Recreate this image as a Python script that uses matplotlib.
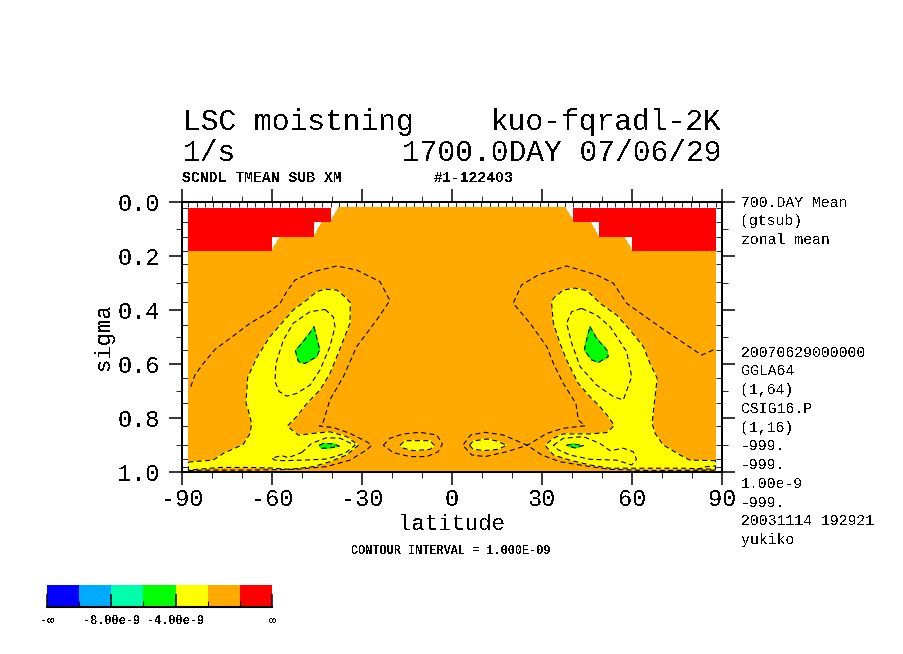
import matplotlib
matplotlib.use("Agg")
import matplotlib.pyplot as plt

plt.rcParams['font.family'] = ['Liberation Mono', 'DejaVu Sans Mono']
plt.rcParams['text.antialiased'] = False

W, H = 904, 654

# grid of the model: gaussian latitudes and sigma levels (inner ticks)
lat_nh = [1.39, 4.19, 6.98, 9.77, 12.56, 15.35, 18.14, 20.93, 23.72, 26.51, 29.30,
          32.09, 34.88, 37.67, 40.46, 43.25, 46.04, 48.84, 51.63, 54.42, 57.21, 60.0,
          62.79, 65.58, 68.37, 71.16, 73.95, 76.74, 79.53, 82.31, 85.10, 87.86]
sigma_levels = [.995, .980, .950, .900, .830, .745, .650, .549, .454, .369, .295,
                .230, .180, .130, .074, .022]

# fill areas, contours as (latitude, sigma)
orange_lat = [-87.86, -59.99, -57.21, -46.04, -43.25, -40.46, -37.67, 37.67, 40.46,
              46.04, 48.84, 57.21, 59.99, 87.86, 87.86, -87.86]
orange_sig = [.18, .18, .13, .13, .074, .074, .022, .022, .074, .074, .13, .13, .18,
              .18, 1.0, 1.0]

red_w_lat = [-87.86, -40.46, -40.46, -46.04, -46.04, -59.99, -59.99, -87.86]
red_w_sig = [.022, .022, .074, .074, .13, .13, .18, .18]
red_e_lat = [40.46, 87.86, 87.86, 59.99, 59.99, 48.84, 48.84, 40.46]
red_e_sig = [.022, .022, .18, .18, .13, .13, .074, .074]

# -2e-9 contour
m2_w_lat = [-87.86, -79.6, -76.2, -69.6, -67.3, -66.8, -68.2, -68.7, -68.1, -64.9, -60.7,
            -57.3, -52.9, -48.4, -45.1, -42.3, -38.4, -35.7, -33.9, -34, -36.2, -38.4,
            -40.7, -44, -48.4, -51.8, -54.9, -51.2, -46.2, -40.7, -35.1, -31.2, -35.1,
            -40.7, -46.2, -54, -60.7, -67.3, -77.3, -87.86]
m2_w_sig = [.963, .956, .931, .898, .857, .820, .758, .746, .649, .573, .499, .456, .400,
            .363, .332, .323, .326, .351, .373, .449, .511, .573, .635, .696, .746, .795,
            .830, .864, .857, .851, .869, .901, .937, .962, .980, .990, .985, .983, .983,
            .993]
m2_e_lat = [87.86, 79.3, 76, 70.4, 67.7, 66.7, 67.3, 68.4, 66, 63.8, 59.3, 54.9, 49.3, 47.7,
            44.9, 41, 37.1, 33.8, 33.2, 33.8, 36, 38.2, 42.1, 46, 49.3, 52.1, 54.1, 51.6,
            46, 37.1, 33.8, 31, 33.8, 39.3, 46, 52.7, 66, 77.1, 87.86]
m2_e_sig = [.958, .956, .937, .900, .857, .820, .758, .653, .598, .536, .474, .419, .375,
            .357, .328, .319, .326, .357, .375, .449, .523, .585, .672, .721, .758, .795,
            .828, .854, .859, .859, .875, .901, .937, .956, .974, .986, .986, .986, .990]
m2_tw_lat = [-17.3, -15.7, -7.3, -5.9, -7.3, -12.9, -16.2]
m2_tw_sig = [.901, .884, .884, .901, .916, .921, .912]
m2_te_lat = [5.8, 7.1, 11.6, 14.9, 18.2, 15.4, 10.4, 6.9]
m2_te_sig = [.901, .885, .878, .885, .901, .916, .921, .914]

# -4e-9 contour
m4_w_lat = [-46, -44.9, -44.1, -45.1, -49, -51.2, -52.2, -50.1, -47.9]
m4_w_sig = [.462, .511, .546, .573, .598, .591, .551, .523, .493]
m4_e_lat = [46, 48.2, 51.6, 52.1, 48.8, 46.6, 44.1, 45.1]
m4_e_sig = [.462, .505, .548, .573, .594, .585, .548, .499]
m4_lw_lat = [-44.2, -42.9, -39.6, -37.6, -40.7, -43.4]
m4_lw_sig = [.901, .894, .896, .904, .911, .912]
m4_le_lat = [38.2, 40.4, 43.8, 41, 39.3]
m4_le_sig = [.901, .896, .902, .911, .906]

# -1e-9 contour
m1_w_lat = [-87.1, -85.7, -82.9, -79, -72.9, -67.3, -60.7, -57.3, -55.1, -52.3, -46.2, -38.4,
            -31.8, -24, -20.7, -25.1, -31.8, -36.2, -40.7, -42.9, -44.2, -39.6, -34, -28.4,
            -26.8, -28.4, -34, -41.8, -51.8, -67.3, -82.9, -87.86]
m1_w_sig = [.684, .641, .598, .546, .496, .449, .406, .375, .332, .289, .258, .237, .252, .295,
            .365, .437, .536, .647, .733, .814, .830, .835, .857, .888, .901, .918, .956, .980,
            .990, .993, .993, .995]
m1_tw_lat = [-22.9, -20.7, -16.2, -10.7, -5.1, -3.2, -4.6, -8.4, -14, -19.6, -22.9]
m1_tw_sig = [.901, .875, .859, .853, .863, .896, .925, .943, .943, .928, .901]
m1_e_lat = [87.1, 83.2, 74.9, 66, 58.2, 53.8, 48.2, 38.2, 28.8, 23.2, 20.4, 26, 31.6, 33.8, 37.1,
            41.3, 42.1, 44.3, 37.1, 31.6, 25.1, 18.2, 11, 6.6, 3.6, 6.2, 11, 17.1, 25.1, 29.9,
            36, 46, 52.7, 66, 87.86]
m1_e_sig = [.548, .567, .505, .437, .375, .301, .270, .237, .270, .307, .375, .449, .536, .598,
            .672, .746, .807, .829, .838, .857, .901, .925, .943, .937, .901, .863, .853, .863,
            .901, .937, .962, .980, .990, .995, .993]
m1_c_lat = [81.6, 84.9, 87.7]
m1_c_sig = [.990, .980, .978]

# -3e-9 contour
m3_w_lat = [-42.3, -39.6, -39, -40.7, -44, -47.3, -51.8, -55.1, -57.6, -59, -58.7, -56.2, -52.9,
            -47.3]
m3_w_sig = [.398, .425, .462, .536, .622, .678, .709, .719, .702, .665, .598, .511, .449, .406]
m3_e_lat = [43.2, 48.2, 52.7, 58.2, 59.9, 57.1, 53.8, 48.2, 42.7, 39.9, 38.2, 39.9]
m3_e_sig = [.394, .419, .462, .554, .647, .733, .721, .678, .610, .523, .449, .406]
m3_lw_lat = [-50.1, -46.8, -41.8, -37.3, -32.3, -35.7, -41.8, -49.6, -56.2, -59, -60.1, -56.8,
             -54.6]
m3_lw_sig = [.928, .894, .873, .875, .901, .931, .952, .956, .958, .956, .949, .939, .947]
m3_le_lat = [33.8, 37.1, 43.8, 49.3, 52.7, 57.1, 60.4, 61.5, 59.9, 54.9, 46, 39.3, 35.4]
m3_le_sig = [.901, .875, .869, .894, .921, .912, .925, .953, .974, .956, .953, .937, .918]

# colour bar
bar_colors = ['#0000FF', '#00AAFF', '#00FFAA', '#00FF00', '#FFFF00', '#FFAA00', '#FF0000']
bar_edges = [0, 1, 2, 3, 4, 5, 6, 7]
bar_major = [0, 2, 4, 7]
bar_labels = ['-∞', '-8.00e-9', '-4.00e-9', '∞']

side_top = ['700.DAY Mean', '(gtsub)', 'zonal mean']
side_top_y = [203, 221, 240]
side_low = ['20070629000000', 'GGLA64', '(1,64)', 'CSIG16.P', '(1,16)', '-999.', '-999.',
            '1.00e-9', '-999.', '20031114 192921', 'yukiko']
side_low_y = [353, 371, 390, 409, 428, 446, 465, 484, 503, 521, 540]

DASH = (0, (4.5, 3))


def px_text(x, y, s, size, ha='left', weight='normal'):
    # position given in pixels from the top left of the picture
    fig.text(x / W, 1 - y / H, s, fontsize=size, ha=ha, va='center', fontweight=weight)


def closed(values):
    return list(values) + [values[0]]


def fill_area(xs, ys, color, z=2):
    ax.fill(xs, ys, color=color, lw=0, antialiased=False, zorder=z)


def contour(xs, ys, close=True):
    if close:
        xs, ys = closed(xs), closed(ys)
    ax.plot(xs, ys, color='k', lw=0.8, linestyle=DASH, antialiased=True, zorder=5,
            clip_on=True)


fig = plt.figure(figsize=(W / 100, H / 100), dpi=100)
ax = fig.add_axes([182 / W, 1 - 472 / H, 540 / W, 270 / H])

fill_area(orange_lat, orange_sig, '#FFAA00')
fill_area(red_w_lat, red_w_sig, '#FF0000')
fill_area(red_e_lat, red_e_sig, '#FF0000')
for xs, ys in [(m2_w_lat, m2_w_sig), (m2_e_lat, m2_e_sig), (m2_tw_lat, m2_tw_sig),
               (m2_te_lat, m2_te_sig)]:
    fill_area(xs, ys, '#FFFF00', z=3)
    contour(xs, ys)
for xs, ys in [(m4_w_lat, m4_w_sig), (m4_e_lat, m4_e_sig), (m4_lw_lat, m4_lw_sig),
               (m4_le_lat, m4_le_sig)]:
    fill_area(xs, ys, '#00FF00', z=4)
    contour(xs, ys)
for xs, ys in [(m3_w_lat, m3_w_sig), (m3_e_lat, m3_e_sig), (m3_lw_lat, m3_lw_sig),
               (m3_le_lat, m3_le_sig)]:
    contour(xs, ys)
for xs, ys in [(m1_w_lat, m1_w_sig), (m1_tw_lat, m1_tw_sig), (m1_e_lat, m1_e_sig),
               (m1_c_lat, m1_c_sig)]:
    contour(xs, ys, close=False)

ax.set_xlim(-90, 90)
ax.set_ylim(1.0, 0.0)
ax.set_xticks([-90, -60, -30, 0, 30, 60, 90])
ax.set_xticklabels(['-90', '-60', '-30', '0', '30', '60', '90'])
ax.set_xticks(list(range(-80, 90, 10)), minor=True)
ax.set_yticks([0.0, 0.2, 0.4, 0.6, 0.8, 1.0])
ax.set_yticklabels(['0.0', '0.2', '0.4', '0.6', '0.8', '1.0'])
ax.set_yticks([0.1, 0.3, 0.5, 0.7, 0.9], minor=True)
ax.tick_params(which='major', direction='out', length=9.5, width=1.1, labelsize=17,
               top=True, bottom=True, left=True, right=True, zorder=6)
ax.tick_params(which='minor', direction='out', length=4.5, width=0.6,
               top=True, bottom=True, left=True, right=True)
ax.tick_params(axis='x', which='major', pad=2)
ax.tick_params(axis='y', which='major', pad=6.5)
for s in ax.spines.values():
    s.set_linewidth(1.1)
    s.set_antialiased(False)
    s.set_zorder(7)

# short inner ticks on the model grid
inner_lat = [-v for v in lat_nh] + lat_nh
sec_top = ax.secondary_xaxis('top')
sec_top.set_xticks(inner_lat)
sec_top.tick_params(direction='in', length=3.8, width=0.6, labeltop=False)
sec_top.spines['top'].set_visible(False)
for side in ['left', 'right']:
    sec = ax.secondary_yaxis(side)
    sec.set_yticks(sigma_levels)
    sec.tick_params(direction='in', length=4.2, width=0.6, labelleft=False, labelright=False)
    sec.spines[side].set_visible(False)

ax.set_xlabel('latitude', fontsize=16)
ax.xaxis.set_label_coords(0.5, -(514 - 472) / 270)
ax.set_ylabel('sigma', fontsize=16)
ax.yaxis.set_label_coords((114 - 182) / 540, 1 - (337 - 202) / 270)

# titles
px_text(183, 122, 'LSC moistning', 21.3)
px_text(721, 122, 'kuo-fqradl-2K', 21.3, ha='right')
px_text(183, 153, '1/s', 21.3)
px_text(721, 153, '1700.0DAY 07/06/29', 21.3, ha='right')
px_text(182, 178, 'SCNDL TMEAN SUB XM', 10.6, weight='bold')
px_text(434, 178, '#1-122403', 10.6, weight='bold')
px_text(351, 551, 'CONTOUR INTERVAL = 1.000E-09', 8.6, weight='bold')

for s, y in zip(side_top, side_top_y):
    px_text(741, y, s, 10.7)
for s, y in zip(side_low, side_low_y):
    px_text(741, y, s, 10.7)

# colour bar
cax = fig.add_axes([47 / W, 1 - 607 / H, 225 / W, 22 / H])
cax.bar(bar_edges[:-1], [1] * len(bar_colors), width=1, align='edge', color=bar_colors,
        antialiased=False)
cax.set_xlim(bar_edges[0], bar_edges[-1])
cax.set_ylim(0, 1)
cax.set_yticks([])
cax.set_xticks(bar_major)
cax.set_xticklabels(bar_labels, fontsize=8.6, fontweight='bold')
cax.set_xticks([1, 3, 5, 6], minor=True)
cax.tick_params(which='major', direction='in', length=9.5, width=1.1, pad=6, top=False)
cax.tick_params(which='minor', direction='in', length=4, width=0.8, top=False)
for name, s in cax.spines.items():
    s.set_visible(name == 'bottom')
    s.set_linewidth(1.5)

fig.savefig('out.png', dpi=100)
